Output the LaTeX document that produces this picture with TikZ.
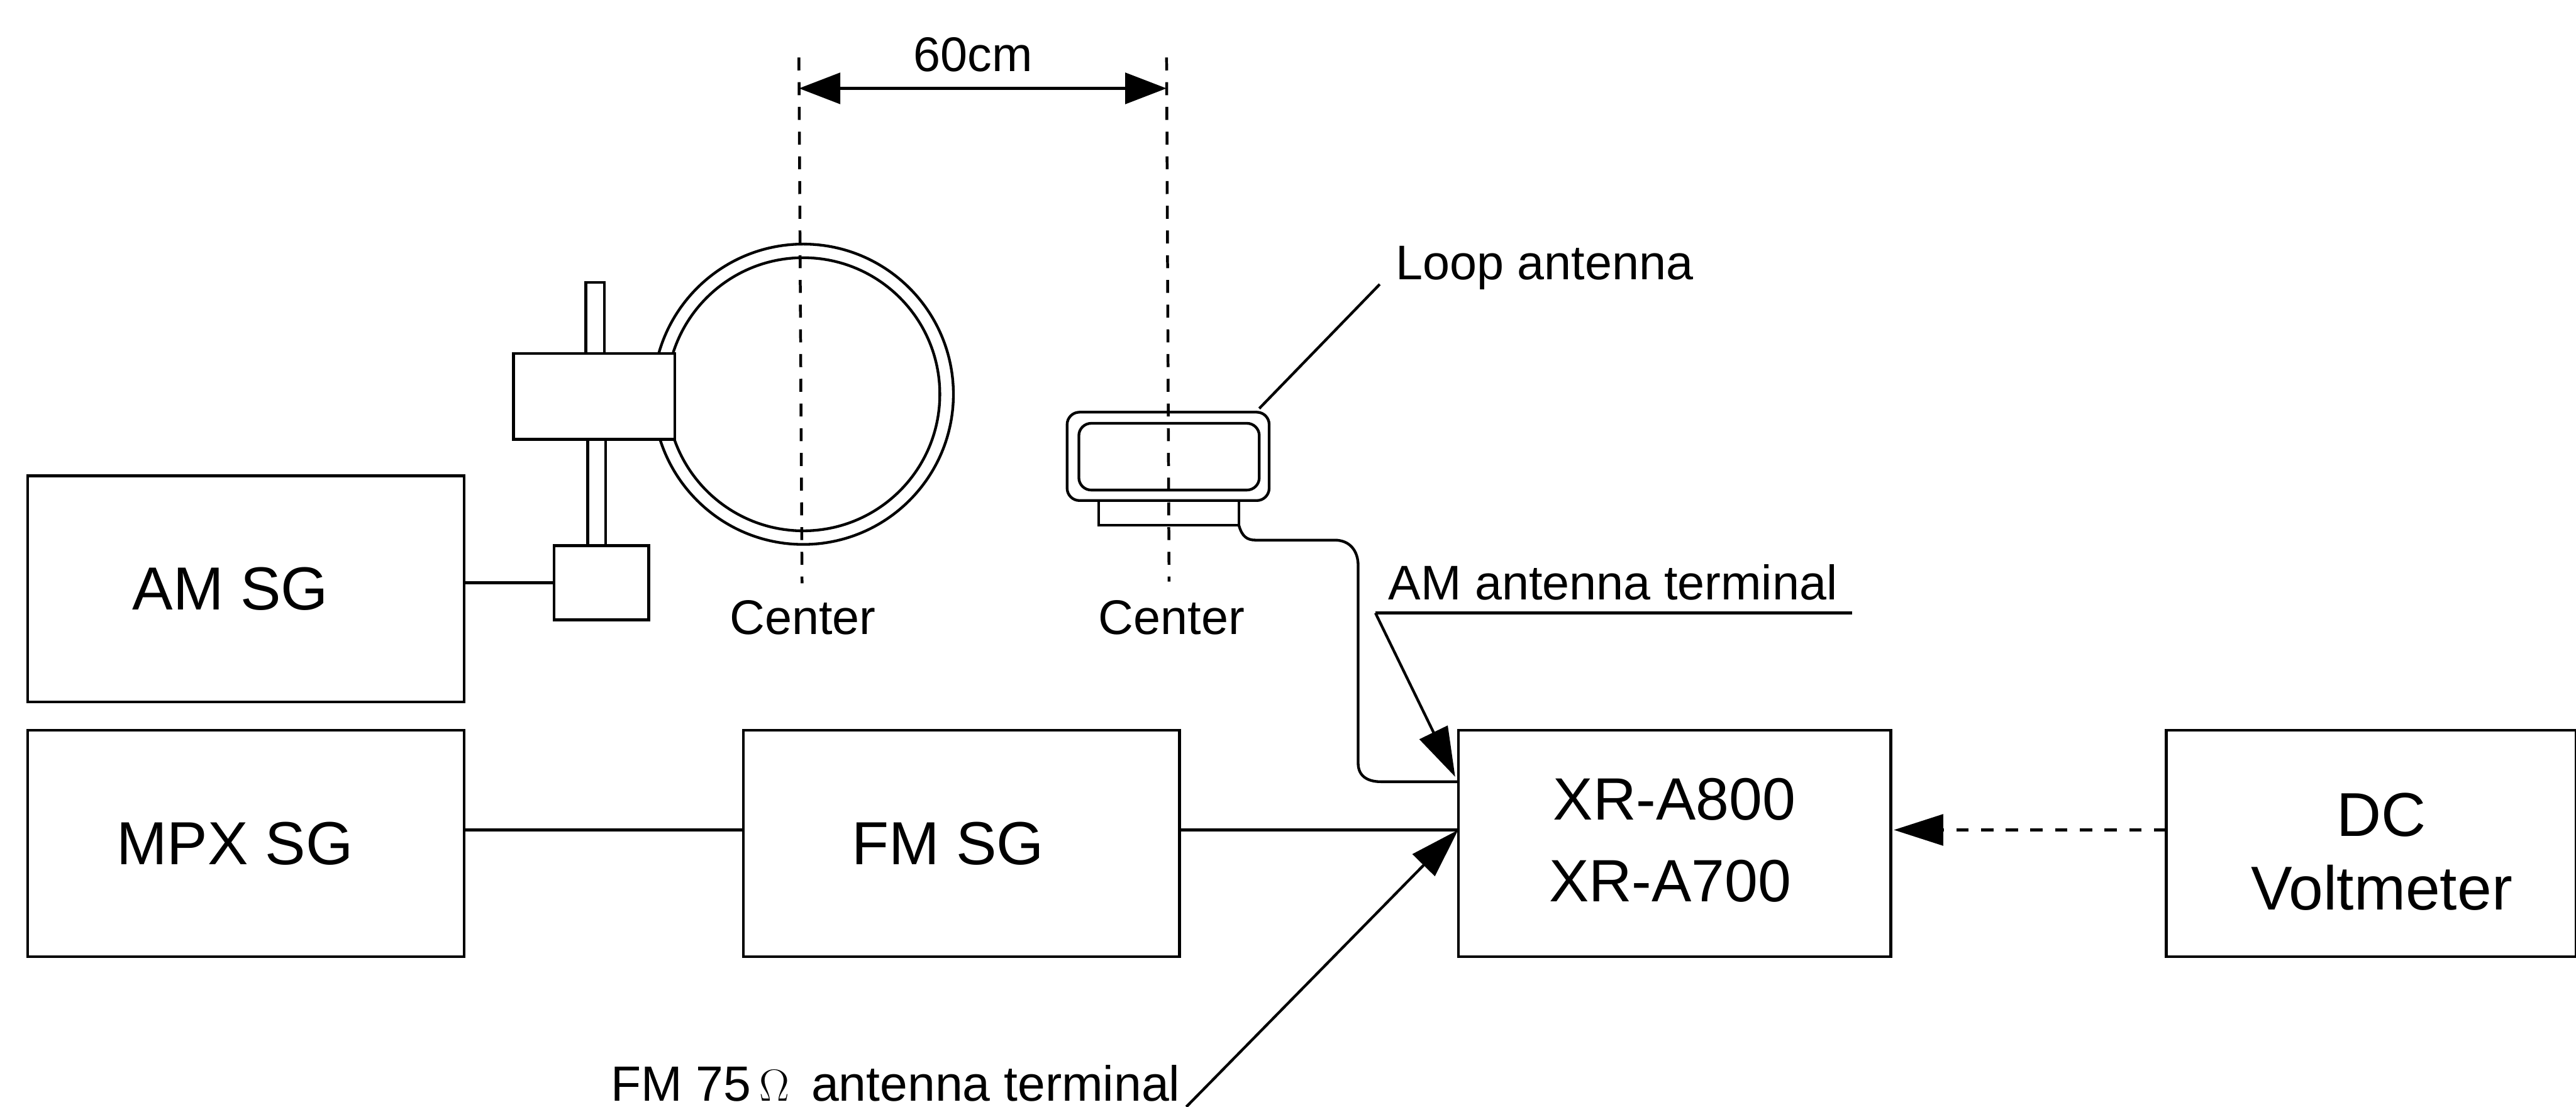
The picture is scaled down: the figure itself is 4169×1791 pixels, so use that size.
\documentclass[tikz,border=0pt]{standalone}
\usepackage{fontspec}
\setmainfont{Liberation Sans}
\usepackage{tikz}
\usetikzlibrary{arrows.meta,positioning}
\tikzset{
  wire/.style={line width=1.25pt, draw=black},
  tip/.style={wire, -{Triangle[length=8mm, width=5mm]}},
  dimtip/.style={wire, line width=1.5pt, -{Triangle[length=6.7mm, width=5mm]}},
  centerline/.style={line width=1.3pt, draw=black, dash pattern=on 2.1mm off 1.9mm},
  unit/.style={draw=black, line width=1.25pt, fill=white, minimum width=70.6mm, minimum height=36.6mm,
               align=center, font=\fontsize{28}{38}\selectfont, inner sep=0pt, outer sep=0pt},
  part/.style={draw=black, line width=1.25pt, fill=white, inner sep=0pt, outer sep=0pt},
  ring/.style={circle, draw=black, line width=1.25pt, inner sep=0pt, outer sep=0pt},
  note/.style={font=\fontsize{22.4}{26}\selectfont, inner sep=0pt, outer sep=0pt}
}
\begin{document}
\begin{tikzpicture}[x=.1mm, y=-.1mm]
  \useasboundingbox (0,0) rectangle (4169,1791);
  % signal generators and receiver
  \node[unit] (amsg) at (398,953) {AM SG\hspace{5mm}};
  \node[unit, below=4.6mm of amsg] (mpxsg) {MPX SG\hspace{3.6mm}};
  \node[unit, right=45.2mm of mpxsg] (fmsg) {FM SG\hspace{4.4mm}};
  \node[unit, right=45.1mm of fmsg, minimum width=70mm, font=\fontsize{27.5}{37.7}\selectfont] (tuner)
    {XR-A800\hspace{1.4mm}\\XR-A700\hspace{1.4mm}\rule[-1.2mm]{0pt}{0pt}};
  \node[unit, right=44.6mm of tuner, minimum width=66.3mm, font=\fontsize{28.5}{34}\selectfont] (voltmeter)
    {\hspace{3.4mm}\rule{0pt}{9.7mm}DC\\\hspace{3.4mm}Voltmeter};
  \coordinate (busline) at (0,1343);
  % left dashed axis and loop
  \node[ring, minimum size=48.6mm] (loopouter) at (1300,638) {};
  \node[ring, minimum size=44.2mm] (loopinner) at (1300,638) {};
  \coordinate (axisatop) at (1293,93);
  \coordinate (axisabot) at (1298,944);
  \coordinate (axisbtop) at (1888,93);
  \coordinate (axisbbot) at (1892,941);
  \draw[centerline] (axisatop) -- (axisabot);
  \draw[centerline] (axisbtop) -- (axisbbot);
  % stand with rod
  \node[part, minimum width=3mm, minimum height=11.5mm, anchor=south west] (rodtop) at (948,572) {};
  \node[part, minimum width=2.9mm, minimum height=17.2mm, anchor=north west] (rodbot) at (951,711) {};
  \node[part, minimum width=26.1mm, minimum height=13.9mm, anchor=north west] (holder) at (831,572) {};
  \node[part, minimum width=15.3mm, minimum height=12mm, anchor=north west] (feedbox) at (897,883) {};
  \draw[wire] (amsg.east |- feedbox.west) -- (feedbox.west);
  % small antenna
  \node[part, fill=none, rounded corners=2mm, minimum width=32.7mm, minimum height=14.3mm, anchor=north west] (antouter) at (1727,667) {};
  \node[part, fill=none, rounded corners=2mm, minimum width=29.2mm, minimum height=10.8mm, anchor=north west] (antinner) at (1746,685) {};
  \node[part, fill=none, minimum width=22.7mm, minimum height=4mm, anchor=north west] (antbase) at (1778,810) {};
  % labels
  \node[note, anchor=base] (dist) at (1575,116) {60cm};
  \node[note, anchor=base] (centera) at (1299,1026) {Center};
  \node[note, anchor=base] (centerb) at (1896,1026) {Center};
  \node[note, anchor=base west] (looplabel) at (2259,452) {Loop antenna};
  \node[note, anchor=base west] (amlabel) at (2247,970) {AM antenna terminal};
  \node[note, anchor=base east, font=\fontsize{22.8}{26}\selectfont] (fmlabel) at (1910,1782) {FM 75\,$\Omega$\, antenna terminal};
  % connectors
  \coordinate (dimmid) at (1590,143);
  \draw[dimtip] (dimmid) -- (axisatop |- dimmid);
  \draw[dimtip] (dimmid) -- (axisbtop |- dimmid);
  \draw[wire] (mpxsg.east |- busline) -- (fmsg.west |- busline);
  \draw[wire] (fmsg.east |- busline) -- (tuner.west |- busline);
  \draw[tip, line width=1.5pt, dash pattern=on 2mm off 2mm, shorten >=.5mm] (voltmeter.west |- busline) -- (tuner.east |- busline);
  \coordinate (leadstart) at (2038,661);
  \coordinate (leadend) at (2233,460);
  \draw[wire] (leadstart) -- (leadend);
  \coordinate (underleft) at (2226,992);
  \coordinate (underright) at (2997,992);
  \draw[wire] (underleft) -- (underright);
  \coordinate (amtip) at (2355,1257);
  \draw[tip] (underleft) -- (amtip);
  \coordinate (fmfoot) at (1920,1791);
  \draw[tip] (fmfoot) -- (tuner.west |- busline);
  \draw[wire] (antbase.south east) .. controls (2010,868) and (2018,874) .. (2032,874)
    -- (2160,874) .. controls (2185,874) and (2198,892) .. (2198,915)
    -- (2198,1235) .. controls (2198,1255) and (2212,1265) .. (2235,1265)
    -- (tuner.west |- 0,1265);
\end{tikzpicture}
\end{document}
